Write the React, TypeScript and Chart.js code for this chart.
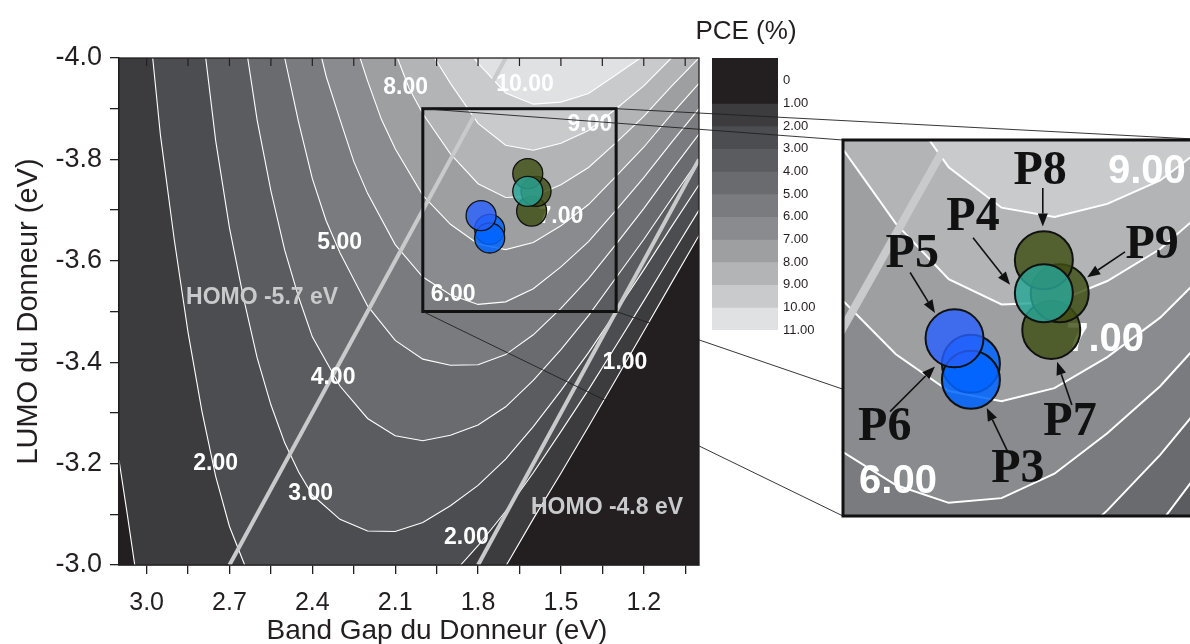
import React, { useEffect, useRef } from 'react';
import { Chart, registerables } from 'chart.js';

Chart.register(...registerables);

const SANS = '"Liberation Sans", Arial, Helvetica, sans-serif';
const SERIF = '"Liberation Serif", "Times New Roman", serif';

// ---------- axes ----------
const xMin = 1.0;
const xMax = 3.1;
const yMin = -4.0;
const yMax = -3.0;
const xTickValues = [3.0, 2.85, 2.7, 2.55, 2.4, 2.25, 2.1, 1.95, 1.8, 1.65, 1.5, 1.35, 1.2, 1.05];
const xTickLabels = ['3.0', '', '2.7', '', '2.4', '', '2.1', '', '1.8', '', '1.5', '', '1.2', ''];
const yTickValues = [-4.0, -3.9, -3.8, -3.7, -3.6, -3.5, -3.4, -3.3, -3.2, -3.1, -3.0];
const yTickLabels = ['-4.0', '', '-3.8', '', '-3.6', '', '-3.4', '', '-3.2', '', '-3.0'];
const xTitle = 'Band Gap du Donneur (eV)';
const yTitle = 'LUMO du Donneur (eV)';

// ---------- zoom box (data range shown in the inset) ----------
const boxGap = [1.3, 2.0];
const boxLumo = [-3.9, -3.5];

// ---------- colour scale ----------
const colorbarTitle = 'PCE (%)';
const colorbarTickValues = [1, 2, 3, 4, 5, 6, 7, 8, 9, 10, 11, 12];
const colorbarTickLabels = ['0', '1.00', '2.00', '3.00', '4.00', '5.00', '6.00', '7.00', '8.00', '9.00', '10.00', '11.00'];
const colorbarColors = ['#231f20', '#231f20', '#3c3c3e', '#4b4d50', '#5a5c5f', '#696b6e', '#797b7e', '#898b8e', '#9d9fa1', '#b2b4b6', '#c9cacc', '#e0e1e2'];
// colour of the region PCE >= level (up to next level)
const levelColors = ['#231f20', '#3c3c3e', '#4b4d50', '#5a5c5f', '#696b6e', '#797b7e', '#898b8e', '#9d9fa1', '#b2b4b6', '#c9cacc', '#e0e1e2'];

// ---------- contour lines [band gap, LUMO] ----------
const contour1Left = [[3.1, -3.207], [3.07, -3.1], [3.043, -3.0]];
const contour1Right = [[1.697, -3.0], [1.6, -3.091], [1.5, -3.181], [1.4, -3.273], [1.3, -3.367], [1.2, -3.461], [1.1, -3.556], [1.0, -3.65]];
const contour2Left = [[2.978, -4.0], [2.95, -3.848], [2.9, -3.642], [2.85, -3.459], [2.8, -3.304], [2.75, -3.175], [2.7, -3.076], [2.645, -3.0]];
const contour2Right = [[1.863, -3.0], [1.8, -3.038], [1.7, -3.106], [1.6, -3.182], [1.5, -3.263], [1.4, -3.346], [1.3, -3.433], [1.2, -3.521], [1.1, -3.611], [1.0, -3.7]];
const contour3 = [[2.786, -4.0], [2.75, -3.837], [2.7, -3.665], [2.65, -3.529], [2.6, -3.409], [2.55, -3.316], [2.5, -3.241], [2.45, -3.184], [2.4, -3.138], [2.3, -3.09], [2.2, -3.067], [2.1, -3.066], [2.0, -3.084], [1.9, -3.117], [1.8, -3.157], [1.7, -3.209], [1.6, -3.273], [1.5, -3.344], [1.4, -3.419], [1.3, -3.5], [1.2, -3.582], [1.1, -3.667], [1.0, -3.75]];
const contour4 = [[2.634, -4.0], [2.6, -3.878], [2.55, -3.738], [2.5, -3.621], [2.45, -3.529], [2.4, -3.45], [2.3, -3.353], [2.2, -3.289], [2.1, -3.255], [2.0, -3.245], [1.9, -3.256], [1.8, -3.276], [1.7, -3.312], [1.6, -3.364], [1.5, -3.425], [1.4, -3.492], [1.3, -3.567], [1.2, -3.642], [1.1, -3.722], [1.0, -3.8]];
const contour5 = [[2.5, -4.0], [2.45, -3.874], [2.4, -3.762], [2.35, -3.679], [2.3, -3.616], [2.2, -3.511], [2.1, -3.443], [2.0, -3.406], [1.9, -3.394], [1.8, -3.395], [1.7, -3.415], [1.6, -3.454], [1.5, -3.506], [1.4, -3.565], [1.3, -3.633], [1.2, -3.703], [1.1, -3.778], [1.0, -3.85]];
const contour6 = [[2.366, -4.0], [2.35, -3.964], [2.3, -3.879], [2.25, -3.796], [2.2, -3.733], [2.1, -3.632], [2.0, -3.568], [1.9, -3.533], [1.8, -3.514], [1.7, -3.519], [1.6, -3.545], [1.5, -3.588], [1.4, -3.638], [1.3, -3.7], [1.2, -3.764], [1.1, -3.833], [1.0, -3.9]];
const contour7 = [[2.227, -4.0], [2.2, -3.955], [2.15, -3.879], [2.1, -3.821], [2.0, -3.729], [1.9, -3.672], [1.8, -3.633], [1.7, -3.622], [1.6, -3.636], [1.5, -3.669], [1.4, -3.711], [1.3, -3.767], [1.2, -3.824], [1.1, -3.889], [1.0, -3.95]];
const contour8 = [[2.092, -4.0], [2.05, -3.941], [2.0, -3.89], [1.9, -3.811], [1.8, -3.752], [1.7, -3.725], [1.6, -3.727], [1.5, -3.75], [1.4, -3.784], [1.3, -3.833], [1.2, -3.885], [1.1, -3.944], [1.0, -4.0]];
const contour9 = [[1.957, -4.0], [1.9, -3.95], [1.8, -3.871], [1.7, -3.828], [1.6, -3.818], [1.5, -3.832], [1.4, -3.857], [1.3, -3.9], [1.2, -3.945], [1.1, -4.0]];
const contour10 = [[1.815, -4.0], [1.8, -3.99], [1.7, -3.931], [1.6, -3.909], [1.5, -3.913], [1.4, -3.93], [1.3, -3.967], [1.212, -4.0]];

// ---------- HOMO iso-lines ----------
const homo57 = [[2.7, -3.0], [1.7, -4.0]];
const homo48 = [[1.8, -3.0], [1.0, -3.8]];
const homoLabelText = ['HOMO -5.7 eV', 'HOMO -4.8 eV'];
const homoLabelGap = [2.582, 1.333];
const homoLabelLumo = [-3.527, -3.114];

// ---------- contour labels ----------
const contourLabelText = ['8.00', '10.00', '9.00', '7.00', '5.00', '6.00', '4.00', '1.00', '2.00', '3.00', '2.00'];
const contourLabelGap = [2.062, 1.63, 1.395, 1.5, 2.301, 1.89, 2.325, 1.268, 2.75, 2.406, 1.842];
const contourLabelLumo = [-3.941, -3.947, -3.868, -3.687, -3.636, -3.533, -3.37, -3.399, -3.199, -3.141, -3.054];
const insetLabelText = ['9.00', '7.00', '6.00'];
const insetLabelGap = [1.425, 1.504, 1.896];
const insetLabelLumo = [-3.866, -3.687, -3.536];

// ---------- donor points ----------
const pointNames = ['P3', 'P4', 'P5', 'P6', 'P7', 'P8', 'P9'];
const pointGap = [1.758, 1.62, 1.789, 1.758, 1.606, 1.62, 1.59];
const pointLumo = [-3.645, -3.737, -3.689, -3.662, -3.698, -3.772, -3.737];
const pointFill = ['rgba(0,100,255,0.85)', 'rgba(40,165,150,0.82)', 'rgba(40,95,255,0.8)', 'rgba(0,100,255,0.85)', 'rgba(62,78,18,0.82)', 'rgba(62,78,18,0.82)', 'rgba(62,78,18,0.82)'];
const pointOrder = [6, 1, 5, 7, 4, 2, 3];

// ---------- inset callouts ----------
const calloutText = ['P8', 'P4', 'P9', 'P5', 'P6', 'P3', 'P7'];
const calloutGap = [1.627, 1.754, 1.415, 1.869, 1.921, 1.669, 1.5705];
const calloutLumo = [-3.866, -3.817, -3.788, -3.778, -3.594, -3.549, -3.599];
const arrowTailGap = [1.622, 1.754, 1.4665, 1.873, 1.911, 1.688, 1.567];
const arrowTailLumo = [-3.849, -3.796, -3.781, -3.759, -3.611, -3.568, -3.618];
const arrowHeadGap = [1.622, 1.684, 1.538, 1.826, 1.826, 1.728, 1.595];
const arrowHeadLumo = [-3.808, -3.746, -3.754, -3.716, -3.659, -3.615, -3.664];

// ---------- layout (pixels) ----------
const MAIN = { w: 1190, h: 644, right: 699, top: 58, bottom: 565, yAxisW: 119 };
const INSET = { left: 843, top: 140, right: 1213, bottom: 516, pad: 2 };
const CBAR = { left: 672, w: 148, h: 350, padLeft: 40, top: 58, bottom: 330, axisW: 42 };

const toXY = (pts: number[][]) => pts.map(([x, y]) => ({ x, y }));

function regionPolygons(): [number, number[][]][] {
  const tr = [xMin, yMin];
  return [
    [0, [[xMax, yMin], [xMin, yMin], [xMin, yMax], [xMax, yMax]]],
    [1, [...contour1Left, ...contour1Right, tr, [xMax, yMin]]],
    [2, [...contour2Left, ...contour2Right, tr]],
    [3, [...contour3, tr]],
    [4, [...contour4, tr]],
    [5, [...contour5, tr]],
    [6, [...contour6, tr]],
    [7, [...contour7, tr]],
    [8, contour8],
    [9, contour9],
    [10, contour10],
  ];
}

function buildDatasets(big: boolean): any[] {
  const ds: any[] = [];
  regionPolygons().forEach(([level, pts]) => {
    ds.push({
      type: 'line', data: toXY(pts), fill: 'shape', backgroundColor: levelColors[level],
      borderColor: 'rgba(0,0,0,0)', borderWidth: 0, pointRadius: 0, tension: 0, order: 300 - level,
    });
  });
  [contour1Left, contour1Right, contour2Left, contour2Right, contour3, contour4, contour5, contour6, contour7, contour8, contour9, contour10].forEach((pts) => {
    ds.push({
      type: 'line', data: toXY(pts), fill: false, borderColor: '#ffffff', borderWidth: big ? 2 : 1.1,
      pointRadius: 0, tension: 0, order: 150,
    });
  });
  [homo57, homo48].forEach((pts) => {
    ds.push({
      type: 'line', data: toXY(pts), fill: false, borderColor: '#c9cacc', borderWidth: big ? 8 : 4,
      pointRadius: 0, tension: 0, order: 140,
    });
  });
  pointNames.forEach((name, i) => {
    ds.push({
      type: 'scatter', label: name, data: [{ x: pointGap[i], y: pointLumo[i] }],
      pointRadius: big ? 29 : 15, pointBackgroundColor: pointFill[i], pointBorderColor: '#111111',
      pointBorderWidth: big ? 2 : 1.3, order: pointOrder[i],
    });
  });
  return ds;
}

function drawArrow(ctx: CanvasRenderingContext2D, x0: number, y0: number, x1: number, y1: number, head: number, width: number) {
  const a = Math.atan2(y1 - y0, x1 - x0);
  const bx = x1 - head * Math.cos(a);
  const by = y1 - head * Math.sin(a);
  ctx.beginPath();
  ctx.moveTo(x0, y0);
  ctx.lineTo(bx, by);
  ctx.stroke();
  ctx.beginPath();
  ctx.moveTo(x1, y1);
  ctx.lineTo(bx + (width / 2) * Math.sin(a), by - (width / 2) * Math.cos(a));
  ctx.lineTo(bx - (width / 2) * Math.sin(a), by + (width / 2) * Math.cos(a));
  ctx.closePath();
  ctx.fill();
}

const mainDecor = {
  id: 'mainDecor',
  beforeDraw(chart: any) { chart.$labelsDone = false; },
  beforeDatasetDraw(chart: any, args: any) {
    if (chart.$labelsDone || chart.data.datasets[args.index].type !== 'scatter') return;
    chart.$labelsDone = true;
    const { ctx } = chart;
    const x = chart.scales.x;
    const y = chart.scales.y;
    ctx.save();
    ctx.textAlign = 'center';
    ctx.textBaseline = 'middle';
    ctx.font = `bold 23px ${SANS}`;
    ctx.fillStyle = '#ffffff';
    contourLabelText.forEach((t, i) => {
      ctx.fillText(t, x.getPixelForValue(contourLabelGap[i]), y.getPixelForValue(contourLabelLumo[i]));
    });
    ctx.fillStyle = '#c9cacc';
    homoLabelText.forEach((t, i) => {
      ctx.fillText(t, x.getPixelForValue(homoLabelGap[i]), y.getPixelForValue(homoLabelLumo[i]));
    });
    ctx.restore();
  },
  afterDraw(chart: any) {
    const { ctx, chartArea: ca } = chart;
    const x = chart.scales.x;
    const y = chart.scales.y;
    ctx.save();
    ctx.strokeStyle = '#231f20';
    ctx.lineWidth = 1.3;
    ctx.strokeRect(ca.left, ca.top, ca.right - ca.left, ca.bottom - ca.top);
    ctx.lineWidth = 1.2;
    xTickValues.forEach((v) => {
      const px = x.getPixelForValue(v);
      ctx.beginPath();
      ctx.moveTo(px, ca.top);
      ctx.lineTo(px, ca.top + 8);
      ctx.stroke();
    });
    const bx0 = x.getPixelForValue(boxGap[1]);
    const bx1 = x.getPixelForValue(boxGap[0]);
    const by0 = y.getPixelForValue(boxLumo[0]);
    const by1 = y.getPixelForValue(boxLumo[1]);
    ctx.lineWidth = 3;
    ctx.strokeStyle = '#111111';
    ctx.strokeRect(bx0, by0, bx1 - bx0, by1 - by0);
    ctx.lineWidth = 0.9;
    ctx.strokeStyle = '#231f20';
    const lines = [
      [bx0, by0, INSET.left, INSET.top],
      [bx1, by0, INSET.right, INSET.top],
      [bx0, by1, INSET.left, INSET.bottom],
      [bx1, by1, INSET.right, INSET.bottom],
    ];
    lines.forEach(([a, b, c, d]) => {
      ctx.beginPath();
      ctx.moveTo(a, b);
      ctx.lineTo(c, d);
      ctx.stroke();
    });
    ctx.fillStyle = '#231f20';
    ctx.font = `28px ${SANS}`;
    ctx.textAlign = 'center';
    ctx.textBaseline = 'middle';
    ctx.fillText(xTitle, (ca.left + ca.right) / 2 + 28, 631);
    ctx.restore();
  },
};

const insetDecor = {
  id: 'insetDecor',
  beforeDraw(chart: any) { chart.$labelsDone = false; },
  beforeDatasetDraw(chart: any, args: any) {
    if (chart.$labelsDone || chart.data.datasets[args.index].type !== 'scatter') return;
    chart.$labelsDone = true;
    const { ctx, chartArea: ca } = chart;
    const x = chart.scales.x;
    const y = chart.scales.y;
    ctx.save();
    ctx.beginPath();
    ctx.rect(ca.left, ca.top, ca.right - ca.left, ca.bottom - ca.top);
    ctx.clip();
    ctx.textAlign = 'center';
    ctx.textBaseline = 'middle';
    ctx.font = `bold 40px ${SANS}`;
    ctx.fillStyle = '#ffffff';
    insetLabelText.forEach((t, i) => {
      ctx.fillText(t, x.getPixelForValue(insetLabelGap[i]), y.getPixelForValue(insetLabelLumo[i]));
    });
    ctx.restore();
  },
  afterDraw(chart: any) {
    const { ctx, chartArea: ca } = chart;
    const x = chart.scales.x;
    const y = chart.scales.y;
    ctx.save();
    ctx.strokeStyle = '#111111';
    ctx.fillStyle = '#111111';
    ctx.lineWidth = 1.6;
    arrowTailGap.forEach((_, i) => {
      drawArrow(ctx,
        x.getPixelForValue(arrowTailGap[i]), y.getPixelForValue(arrowTailLumo[i]),
        x.getPixelForValue(arrowHeadGap[i]), y.getPixelForValue(arrowHeadLumo[i]), 13, 10);
    });
    ctx.font = `bold 48px ${SERIF}`;
    ctx.textAlign = 'center';
    ctx.textBaseline = 'middle';
    calloutText.forEach((t, i) => {
      ctx.fillText(t, x.getPixelForValue(calloutGap[i]), y.getPixelForValue(calloutLumo[i]));
    });
    ctx.lineWidth = 3;
    ctx.strokeRect(ca.left, ca.top, ca.right - ca.left, ca.bottom - ca.top);
    ctx.restore();
  },
};

const colorbarDecor = {
  id: 'colorbarDecor',
  afterDraw(chart: any) {
    const { ctx, chartArea: ca } = chart;
    ctx.save();
    ctx.fillStyle = '#231f20';
    ctx.font = `26px ${SANS}`;
    ctx.textAlign = 'center';
    ctx.textBaseline = 'middle';
    ctx.fillText(colorbarTitle, (ca.left + ca.right) / 2 + 1, 32);
    ctx.restore();
  },
};

function mainConfig(): any {
  return {
    type: 'line',
    data: { datasets: buildDatasets(false) },
    options: {
      responsive: false,
      animation: false,
      events: [],
      layout: { autoPadding: false, padding: { left: 0, top: MAIN.top, right: MAIN.w - MAIN.right, bottom: 0 } },
      plugins: { legend: { display: false }, tooltip: { enabled: false } },
      scales: {
        x: {
          type: 'linear', min: xMin, max: xMax, reverse: true,
          afterBuildTicks: (s: any) => { s.ticks = xTickValues.map((v) => ({ value: v })); },
          afterFit: (s: any) => { s.height = MAIN.h - MAIN.bottom; },
          ticks: {
            autoSkip: false, maxRotation: 0, padding: 14, color: '#231f20',
            font: { family: SANS, size: 25 },
            callback: (_v: any, i: number) => xTickLabels[i],
          },
          grid: { drawOnChartArea: false, drawTicks: true, tickLength: 9, color: '#231f20', lineWidth: 1.3 },
          border: { display: true, color: '#231f20', width: 1.5 },
        },
        y: {
          type: 'linear', min: yMin, max: yMax, reverse: true,
          afterBuildTicks: (s: any) => { s.ticks = yTickValues.map((v) => ({ value: v })); },
          afterFit: (s: any) => { s.width = MAIN.yAxisW; },
          ticks: {
            autoSkip: false, padding: 8, color: '#231f20',
            font: { family: SANS, size: 27 },
            callback: (_v: any, i: number) => yTickLabels[i],
          },
          grid: { drawOnChartArea: false, drawTicks: true, tickLength: 9, color: '#231f20', lineWidth: 1.3 },
          border: { display: true, color: '#231f20', width: 1.5 },
          title: {
            display: true, text: yTitle, color: '#231f20',
            font: { family: SANS, size: 29 }, padding: { top: 12, bottom: 0 },
          },
        },
      },
    },
    plugins: [mainDecor],
  };
}

function insetConfig(): any {
  return {
    type: 'line',
    data: { datasets: buildDatasets(true) },
    options: {
      responsive: false,
      animation: false,
      events: [],
      layout: { autoPadding: false, padding: INSET.pad },
      plugins: { legend: { display: false }, tooltip: { enabled: false } },
      scales: {
        x: { type: 'linear', display: false, min: boxGap[0], max: boxGap[1], reverse: true },
        y: { type: 'linear', display: false, min: boxLumo[0], max: boxLumo[1], reverse: true },
      },
    },
    plugins: [insetDecor],
  };
}

function colorbarConfig(): any {
  return {
    type: 'bar',
    data: {
      labels: [''],
      datasets: colorbarColors.map((c) => ({
        data: [1], backgroundColor: c, borderWidth: 0, stack: 'pce',
        barPercentage: 1, categoryPercentage: 1,
      })),
    },
    options: {
      responsive: false,
      animation: false,
      events: [],
      layout: { autoPadding: false, padding: { left: CBAR.padLeft, top: CBAR.top, right: 0, bottom: CBAR.h - CBAR.bottom } },
      plugins: { legend: { display: false }, tooltip: { enabled: false } },
      scales: {
        x: { display: false, stacked: true },
        y: {
          position: 'right', stacked: true, min: 0, max: 12, reverse: true,
          grid: { display: false, drawTicks: false },
          border: { display: false },
          afterBuildTicks: (s: any) => { s.ticks = colorbarTickValues.map((v) => ({ value: v })); },
          afterFit: (s: any) => { s.width = CBAR.axisW; },
          ticks: {
            autoSkip: false, padding: 5, color: '#231f20',
            font: { family: SANS, size: 13 },
            callback: (_v: any, i: number) => colorbarTickLabels[i],
          },
        },
      },
    },
    plugins: [colorbarDecor],
  };
}

export default function App() {
  const mainRef = useRef<HTMLCanvasElement>(null);
  const barRef = useRef<HTMLCanvasElement>(null);
  const insetRef = useRef<HTMLCanvasElement>(null);

  useEffect(() => {
    const charts: Chart[] = [];
    if (barRef.current) charts.push(new Chart(barRef.current, colorbarConfig()));
    if (mainRef.current) charts.push(new Chart(mainRef.current, mainConfig()));
    if (insetRef.current) charts.push(new Chart(insetRef.current, insetConfig()));
    return () => { charts.forEach((c) => c.destroy()); };
  }, []);

  const insetW = INSET.right - INSET.left + 2 * INSET.pad;
  const insetH = INSET.bottom - INSET.top + 2 * INSET.pad;

  return (
    <div style={{ position: 'absolute', left: 0, top: 0, width: MAIN.w, height: MAIN.h, overflow: 'hidden', background: '#ffffff' }}>
      <canvas ref={barRef} width={CBAR.w} height={CBAR.h}
        style={{ position: 'absolute', left: CBAR.left, top: 0, width: CBAR.w, height: CBAR.h, zIndex: 0 }} />
      <canvas ref={mainRef} width={MAIN.w} height={MAIN.h}
        style={{ position: 'absolute', left: 0, top: 0, width: MAIN.w, height: MAIN.h, zIndex: 1 }} />
      <canvas ref={insetRef} width={insetW} height={insetH}
        style={{ position: 'absolute', left: INSET.left - INSET.pad, top: INSET.top - INSET.pad, width: insetW, height: insetH, zIndex: 2 }} />
    </div>
  );
}
